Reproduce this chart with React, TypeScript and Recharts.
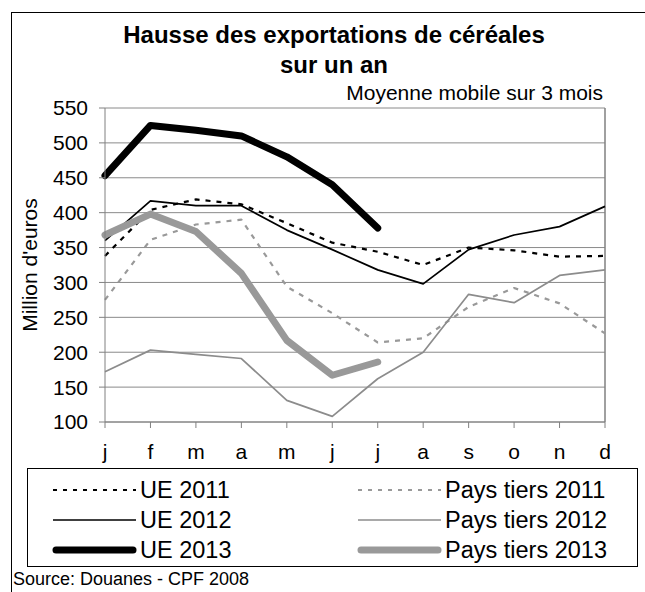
import React from "react";
import {
  LineChart,
  Line,
  XAxis,
  YAxis,
  CartesianGrid,
  ReferenceLine,
} from "recharts";

const months = ["j", "f", "m", "a", "m", "j", "j", "a", "s", "o", "n", "d"];

const ue2011 = [338, 404, 419, 412, 385, 357, 344, 325, 350, 346, 337, 338];
const ue2012 = [360, 417, 410, 410, 375, 347, 318, 298, 347, 368, 380, 409];
const ue2013 = [453, 525, 518, 510, 480, 440, 378];
const pt2011 = [275, 361, 383, 390, 294, 256, 214, 220, 265, 292, 270, 227];
const pt2012 = [172, 203, 197, 191, 131, 108, 162, 200, 283, 271, 310, 318];
const pt2013 = [368, 398, 373, 313, 217, 167, 186];

const yTicks = [100, 150, 200, 250, 300, 350, 400, 450, 500, 550];

const data = months.map((m, i) => ({
  idx: i,
  ue2011: ue2011[i],
  ue2012: ue2012[i],
  ue2013: i < ue2013.length ? ue2013[i] : null,
  pt2011: pt2011[i],
  pt2012: pt2012[i],
  pt2013: i < pt2013.length ? pt2013[i] : null,
}));

const series = [
  { key: "ue2011", name: "UE 2011", color: "#000000", width: 2.2, dash: "5 6" },
  { key: "pt2011", name: "Pays tiers 2011", color: "#999999", width: 2.2, dash: "5 6" },
  { key: "ue2012", name: "UE 2012", color: "#000000", width: 1.7, dash: undefined },
  { key: "pt2012", name: "Pays tiers 2012", color: "#8c8c8c", width: 1.7, dash: undefined },
  { key: "ue2013", name: "UE 2013", color: "#000000", width: 7, dash: undefined },
  { key: "pt2013", name: "Pays tiers 2013", color: "#999999", width: 7, dash: undefined },
];

const font = "'Liberation Sans', Arial, sans-serif";

const LegendBox = () => (
  <svg
    width={612}
    height={100}
    style={{ position: "absolute", left: 27, top: 468 }}
  >
    <rect x={0.5} y={0.5} width={610} height={98} fill="#fff" stroke="#000" />
    {series.map((s, i) => {
      const col = i % 2;
      const row = Math.floor(i / 2);
      const x0 = col === 0 ? 26 : 331;
      const cy = 22 + row * 30;
      return (
        <g key={s.key}>
          <line
            x1={x0 + (s.width > 3 ? 3 : 0)}
            x2={x0 + 83 - (s.width > 3 ? 3 : 0)}
            y1={cy}
            y2={cy}
            stroke={s.color}
            strokeWidth={s.width}
            strokeDasharray={s.dash ? "4 6" : undefined}
            strokeLinecap={s.width > 3 ? "round" : "butt"}
          />
          <text
            x={x0 + 87}
            y={cy}
            dy="0.36em"
            fontSize={23.5}
            fontFamily={font}
            fill="#000"
          >
            {s.name}
          </text>
        </g>
      );
    })}
  </svg>
);

export default function App() {
  return (
    <div
      style={{
        position: "absolute",
        left: 0,
        top: 0,
        width: 645,
        height: 592,
        background: "#fff",
        fontFamily: font,
        overflow: "hidden",
      }}
    >
      <div
        style={{
          position: "absolute",
          left: 11,
          top: 12,
          width: 700,
          height: 700,
          borderLeft: "1px solid #000",
          borderTop: "1px solid #000",
        }}
      />
      <div
        style={{
          position: "absolute",
          left: 0,
          width: 668,
          top: 20,
          textAlign: "center",
          fontWeight: "bold",
          fontSize: 24,
          lineHeight: "30px",
        }}
      >
        Hausse des exportations de céréales
        <br />
        sur un an
      </div>
      <div
        style={{
          position: "absolute",
          right: 42,
          top: 82,
          fontSize: 21,
          lineHeight: "21px",
          whiteSpace: "nowrap",
        }}
      >
        Moyenne mobile sur 3 mois
      </div>
      <div
        style={{
          position: "absolute",
          left: 30,
          top: 265,
          fontSize: 21,
          lineHeight: "22px",
          whiteSpace: "nowrap",
          transform: "translate(-50%, -50%) rotate(-90deg)",
        }}
      >
        Million d'euros
      </div>
      <div style={{ position: "absolute", left: 0, top: 0 }}>
        <LineChart
          width={645}
          height={592}
          data={data}
          margin={{ top: 108, right: 40, bottom: 140, left: 45 }}
        >
          <CartesianGrid
            vertical={false}
            stroke="#8a8a8a"
            strokeWidth={1}
            horizontalValues={yTicks}
          />
          <XAxis
            dataKey="idx"
            type="number"
            domain={[0, 11]}
            ticks={months.map((_, i) => i)}
            tickFormatter={(v: number) => months[v]}
            interval={0}
            height={30}
            stroke="#808080"
            tickSize={6}
            tickMargin={16}
            tick={{ fill: "#000", fontSize: 21, fontFamily: font }}
          />
          <YAxis
            domain={[100, 550]}
            ticks={yTicks}
            width={60}
            stroke="#808080"
            tickSize={6}
            tickMargin={11}
            tick={{ fill: "#000", fontSize: 21, fontFamily: font }}
          />
          <ReferenceLine x={11} stroke="#808080" strokeWidth={1.5} />
          {series.map((s) => (
            <Line
              key={s.key}
              dataKey={s.key}
              name={s.name}
              stroke={s.color}
              strokeWidth={s.width}
              strokeDasharray={s.dash}
              strokeLinecap={s.width > 3 ? "round" : "butt"}
              strokeLinejoin="round"
              dot={false}
              activeDot={false}
              connectNulls={false}
              isAnimationActive={false}
              type="linear"
            />
          ))}
        </LineChart>
      </div>
      <LegendBox />
      <div
        style={{
          position: "absolute",
          left: 13,
          top: 570,
          fontSize: 18,
          lineHeight: "18px",
          whiteSpace: "nowrap",
        }}
      >
        Source: Douanes - CPF 2008
      </div>
    </div>
  );
}
